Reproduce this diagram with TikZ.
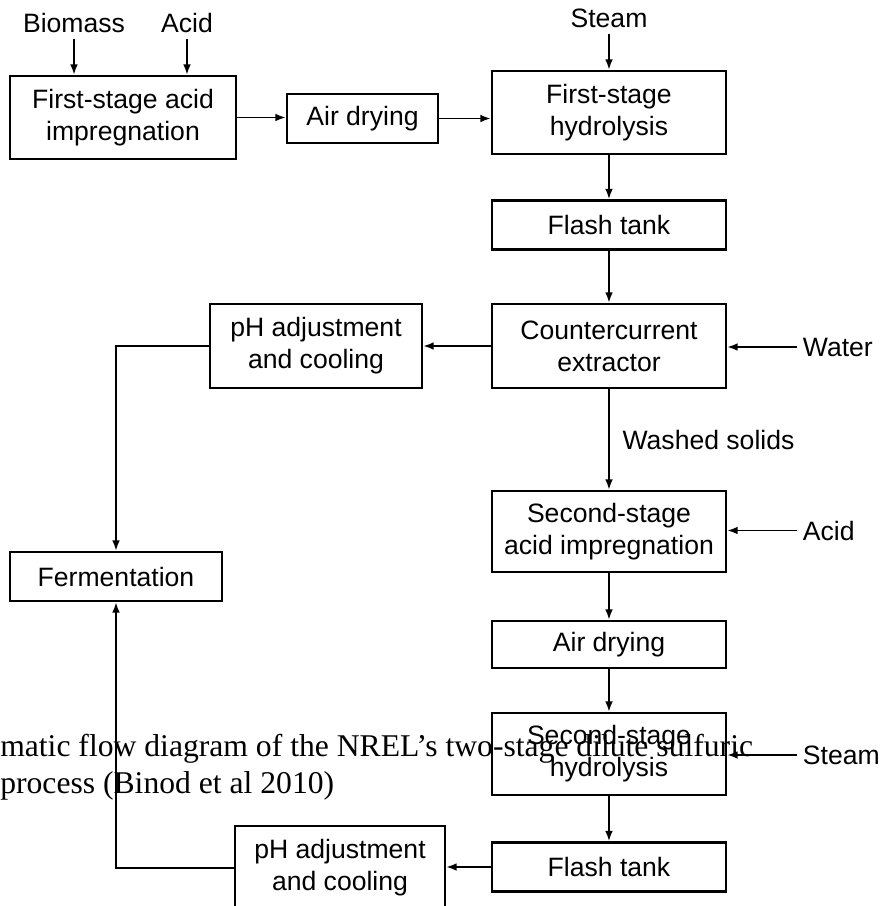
\documentclass[tikz,border=0pt]{standalone}
\usepackage{fontspec}
\setmainfont{Liberation Sans}
\newfontfamily\captionserif{Liberation Serif}
\usepackage{tikz}
\usetikzlibrary{positioning,arrows.meta}

\begin{document}
\begin{tikzpicture}[
x=0.025cm,
y=-0.025cm,
proc/.style={
  draw,
  fill=white,
  line width=1.6pt,
  align=center,
  inner sep=2pt,
  font=\fontsize{18.9pt}{22.8pt}\selectfont,
  minimum width=5.85cm
  },
proctall/.style={proc, minimum height=2.075cm},
procshort/.style={proc, minimum height=1.225cm},
feed/.style={
  inner sep=4pt,
  font=\fontsize{18.9pt}{22.8pt}\selectfont
  },
pipe/.style={line width=1.3pt},
captext/.style={
  inner sep=0pt,
  font=\captionserif\fontsize{22.5pt}{26pt}\selectfont
  },
>={Latex[length=7.5pt,width=5.5pt]}
]

\useasboundingbox (0,0) rectangle (881,906);
\clip (0,0) rectangle (881,906);

\node[proctall, minimum width=5.65cm] (acidimp1) at (123,117.5) {First-stage acid\\impregnation};
\node[procshort, minimum width=3.775cm] (airdry1) at (362.5,118.5) {Air drying};
\node[proctall] (hydro1) at (609,112.5) {First-stage\\hydrolysis};
\node[procshort] (flash1) at (609,225) {Flash tank};
\node[proctall, minimum height=2.1cm] (extract) at (609,346) {Countercurrent\\extractor};
\node[proctall, minimum width=5.3cm, minimum height=2.1cm] (phcool1) at (316,346) {pH adjustment\\and cooling};
\node[procshort, minimum width=5.3cm] (ferment) at (116,576.5) {Fermentation};
\node[proctall, minimum height=2.025cm] (acidimp2) at (609,531.5) {Second-stage\\acid impregnation};
\node[procshort, minimum height=1.175cm] (airdry2) at (609,644.5) {Air drying};
\node[proctall, minimum height=2.05cm] (hydro2) at (609,754) {Second-stage\\hydrolysis};
\node[procshort] (flash2) at (609,867) {Flash tank};
\node[proctall, minimum width=5.25cm, minimum height=2.1cm] (phcool2) at (340,868) {pH adjustment\\and cooling};

\node[feed] (biomass) at (74,23.5) {Biomass};
\node[feed] (acidtop) at (187,23.5) {Acid};
\node[feed] (steamtop) at (609,18.5) {Steam};
\node[feed, anchor=west] (water) at (797,347) {Water};
\node[feed, anchor=west] (acidside) at (797,530.5) {Acid};
\node[feed, anchor=west] (steamside) at (797,755) {Steam};

\foreach \src/\dst in {biomass/acidimp1,acidtop/acidimp1,steamtop/hydro1}
  \draw[pipe,->] (\src.south) -- (\src.south |- \dst.north);
\foreach \src/\dst in {water/extract,acidside/acidimp2,steamside/hydro2}
  \draw[pipe,->] (\src.west) -- (\src.west -| \dst.east);
\foreach \a/\b in {hydro1/flash1,flash1/extract,acidimp2/airdry2,airdry2/hydro2,hydro2/flash2}
  \draw[pipe,->] (\a) -- (\b);

\draw[pipe,->] (extract) -- node[feed, right=5pt] {Washed solids} (acidimp2);
\draw[pipe,->] (acidimp1) -- (acidimp1 -| airdry1.west);
\draw[pipe,->] (airdry1) -- (airdry1 -| hydro1.west);
\draw[pipe,->] (extract) -- (phcool1);
\draw[pipe,->] (phcool1.west) -| (ferment.north);
\draw[pipe,->] (flash2) -- (flash2 -| phcool2.east);
\draw[pipe,->] (phcool2.west) -| (ferment.south);

\node[captext, anchor=base west] (capline1) at (0,756) {matic flow diagram of the NREL’s two-stage dilute sulfuric};
\node[captext, anchor=base west] (capline2) at (0,793) {process (Binod et al 2010)};
\end{tikzpicture}
\end{document}
